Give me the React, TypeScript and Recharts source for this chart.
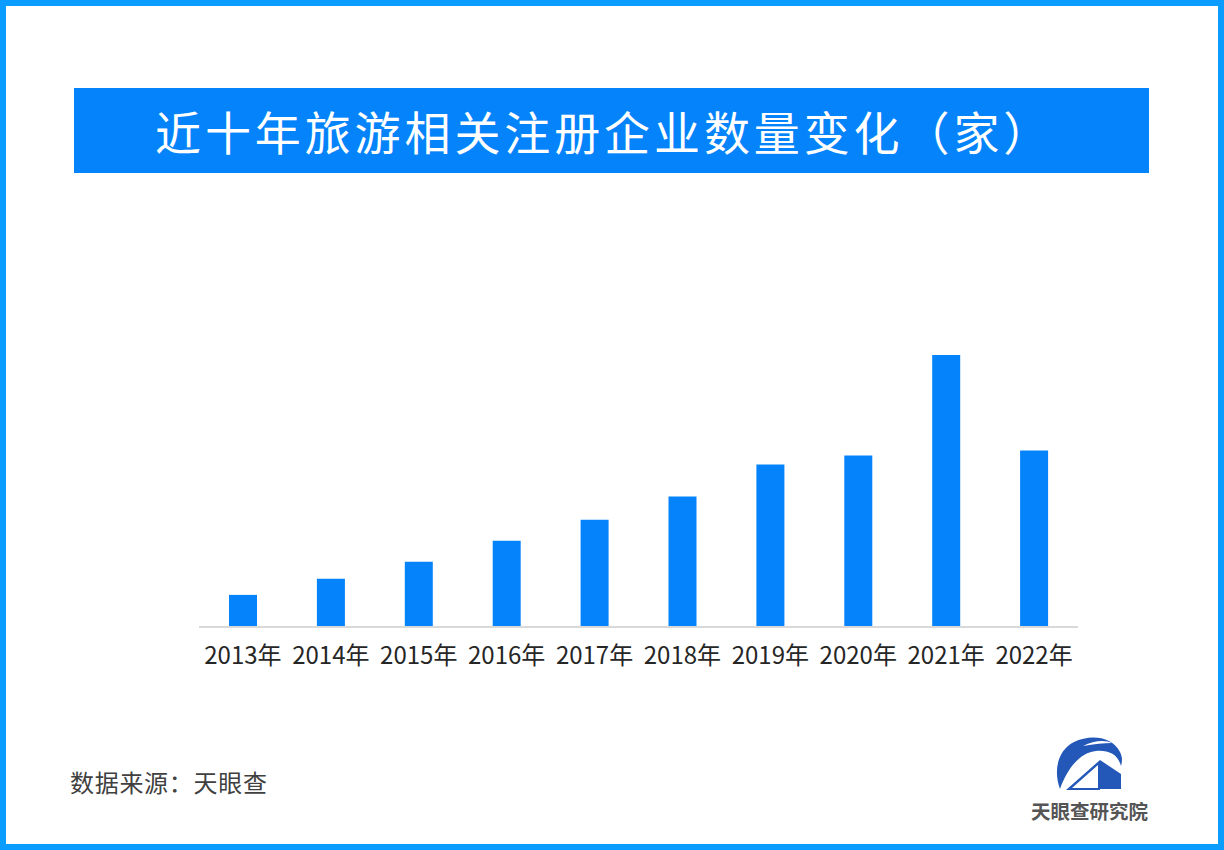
import React from "react";
import { BarChart, Bar, XAxis, YAxis } from "recharts";

const years = ["2013年", "2014年", "2015年", "2016年", "2017年", "2018年", "2019年", "2020年", "2021年", "2022年"];
const counts = [3200, 4800, 6500, 8600, 10700, 13000, 16200, 17100, 27100, 17600];
const titleText = "近十年旅游相关注册企业数量变化（家）";
const sourceText = "数据来源：天眼查";
const logoText = "天眼查研究院";

const chartData = years.map((year, i) => ({ year, count: counts[i] }));
const CJK = '"Noto Sans CJK SC", "Noto Sans", sans-serif';

export default function App() {
  return (
    <div style={{ position: "fixed", left: 0, top: 0, width: 1224, height: 850, background: "#fff", overflow: "hidden", fontFamily: CJK }}>
      <div style={{ position: "absolute", left: 0, top: 0, width: 1224, height: 850, boxSizing: "border-box", border: "6px solid #0a9cff" }} />
      <div style={{ position: "absolute", left: 74, top: 88, width: 1075, height: 85, background: "#0483fb" }} />
      <div style={{ position: "absolute", left: 155, top: 88, height: 85, lineHeight: "85px", fontSize: 46, letterSpacing: 3.9, color: "#fff", whiteSpace: "nowrap" }}>{titleText}</div>
      <div style={{ position: "absolute", left: 0, top: 0 }}>
        <BarChart width={1224} height={850} data={chartData} margin={{ left: 199, right: 146, top: 326, bottom: 163 }} barCategoryGap={0}>
          <YAxis hide domain={[0, 30000]} />
          <XAxis
            dataKey="year"
            height={60}
            interval={0}
            tickLine={false}
            axisLine={{ stroke: "#d9d9d9", strokeWidth: 2 }}
            tick={{ fontSize: 24, fill: "#262626", fontFamily: CJK }}
            tickMargin={14}
          />
          <Bar dataKey="count" fill="#0483fb" barSize={28} isAnimationActive={false} />
        </BarChart>
      </div>
      <div style={{ position: "absolute", left: 70, top: 764, fontSize: 24, lineHeight: "36px", letterSpacing: 0.7, color: "#404040", whiteSpace: "nowrap" }}>{sourceText}</div>
      <svg style={{ position: "absolute", left: 1050, top: 730 }} width={80} height={70} viewBox="0 0 80 70">
        <path d="M10 59 C3 40 8 20 24 12 C40 4 62 6 70 22 C73 28 72 32 71 36 C68 24 58 20 46 21 C32 22 18 36 10 59 Z" fill="#2358b8" />
        <path d="M33 16 C44 10 56 10 62 13 C54 13 44 14 33 16 Z" fill="#fff" />
        <path d="M16 60 L50 30 L50 60 Z M22 58 L48 58 L48 35 Z" fill="#2358b8" fillRule="evenodd" />
        <path d="M50 30 L71 44 L71 59 L50 59 Z" fill="#2358b8" />
      </svg>
      <div style={{ position: "absolute", left: 1031, top: 797, fontSize: 19.5, lineHeight: "28px", fontWeight: 700, color: "#555", whiteSpace: "nowrap" }}>{logoText}</div>
    </div>
  );
}
